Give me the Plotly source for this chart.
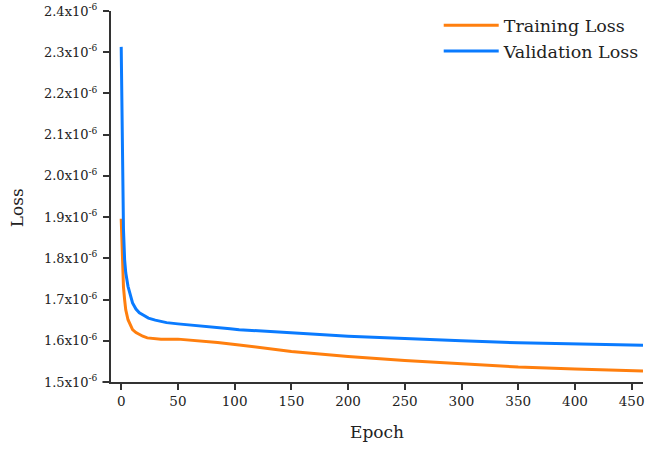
import plotly.graph_objects as go

# Data (loss values in units of 1e-6)
train_epochs = [0, 1, 2, 3, 4, 6, 8, 10, 13, 16, 19, 23, 28, 35, 50, 60, 69, 85, 104, 125,
                150, 175, 200, 250, 281, 300, 350, 400, 460]
train_loss = [1.896, 1.797, 1.73, 1.700, 1.675, 1.651, 1.637, 1.627, 1.620, 1.615, 1.611,
              1.607, 1.605, 1.604, 1.604, 1.602, 1.600, 1.596, 1.590, 1.582,
              1.574, 1.568, 1.562, 1.5524, 1.5476, 1.5437, 1.5364, 1.5316, 1.5267]

val_epochs = [0, 1, 2, 3, 4, 6, 8, 10, 13, 16, 19, 24, 30, 34, 40, 50, 60, 78, 96, 104,
              125, 150, 175, 200, 250, 281, 300, 350, 400, 460]
val_loss = [2.313, 2.02, 1.87, 1.797, 1.765, 1.732, 1.710, 1.692, 1.677, 1.668, 1.663,
            1.655, 1.650, 1.647, 1.644, 1.641, 1.638, 1.633, 1.629, 1.627,
            1.623, 1.619, 1.615, 1.611, 1.605, 1.602, 1.600, 1.595, 1.592, 1.589]

y_ticks = [1.5, 1.6, 1.7, 1.8, 1.9, 2.0, 2.1, 2.2, 2.3, 2.4]
y_tick_text = [f"{v:.1f}x10<sup>-6</sup>" for v in y_ticks]
x_ticks = [0, 50, 100, 150, 200, 250, 300, 350, 400, 450]

FONT = "DejaVu Serif, Palatino Linotype, Book Antiqua, Palatino, serif"

fig = go.Figure()
fig.add_trace(go.Scatter(x=train_epochs, y=[v * 1e-6 for v in train_loss], mode="lines",
                         name="Training Loss", line=dict(color="#FF7F0E", width=3)))
fig.add_trace(go.Scatter(x=val_epochs, y=[v * 1e-6 for v in val_loss], mode="lines",
                         name="Validation Loss", line=dict(color="#0A7BFF", width=3)))

axis_common = dict(showline=True, linecolor="#333333", linewidth=2, ticks="outside",
                   ticklen=6, tickwidth=1.5, tickcolor="#333333", showgrid=False,
                   zeroline=False, mirror=False, automargin=False)

fig.update_layout(
    width=646, height=450,
    margin=dict(l=111, r=3, t=11, b=68, autoexpand=False),
    paper_bgcolor="white", plot_bgcolor="white",
    font=dict(family=FONT, size=13, color="#222222"),
    xaxis=dict(range=[-9, 460], tickvals=x_ticks,
               tickfont=dict(family=FONT, size=13.5, color="#222222"),
               title=dict(text="Epoch", font=dict(family=FONT, size=17), standoff=18),
               **axis_common),
    yaxis=dict(range=[1.5e-6, 2.4e-6], tickvals=[v * 1e-6 for v in y_ticks],
               ticktext=y_tick_text, ticklabelstandoff=3,
               tickfont=dict(family=FONT, size=13, color="#222222"),
               **axis_common),
    legend=dict(x=0.616, y=1.01, xanchor="left", yanchor="top", bgcolor="rgba(0,0,0,0)",
                font=dict(family=FONT, size=17.5, color="#222222"), itemwidth=55,
                tracegroupgap=0),
    showlegend=True,
)

fig.add_annotation(text="Loss", xref="paper", yref="paper", x=-0.176, y=0.469,
                   xanchor="center", yanchor="middle", textangle=-90, showarrow=False,
                   font=dict(family=FONT, size=17, color="#222222"))

fig.add_shape(type="line", xref="paper", yref="paper", x0=-0.016, x1=0, y0=0, y1=0,
              line=dict(color="#333333", width=2))

fig.write_html("out.html", post_script="document.body.style.margin='0px';",
               config={"displayModeBar": False})
